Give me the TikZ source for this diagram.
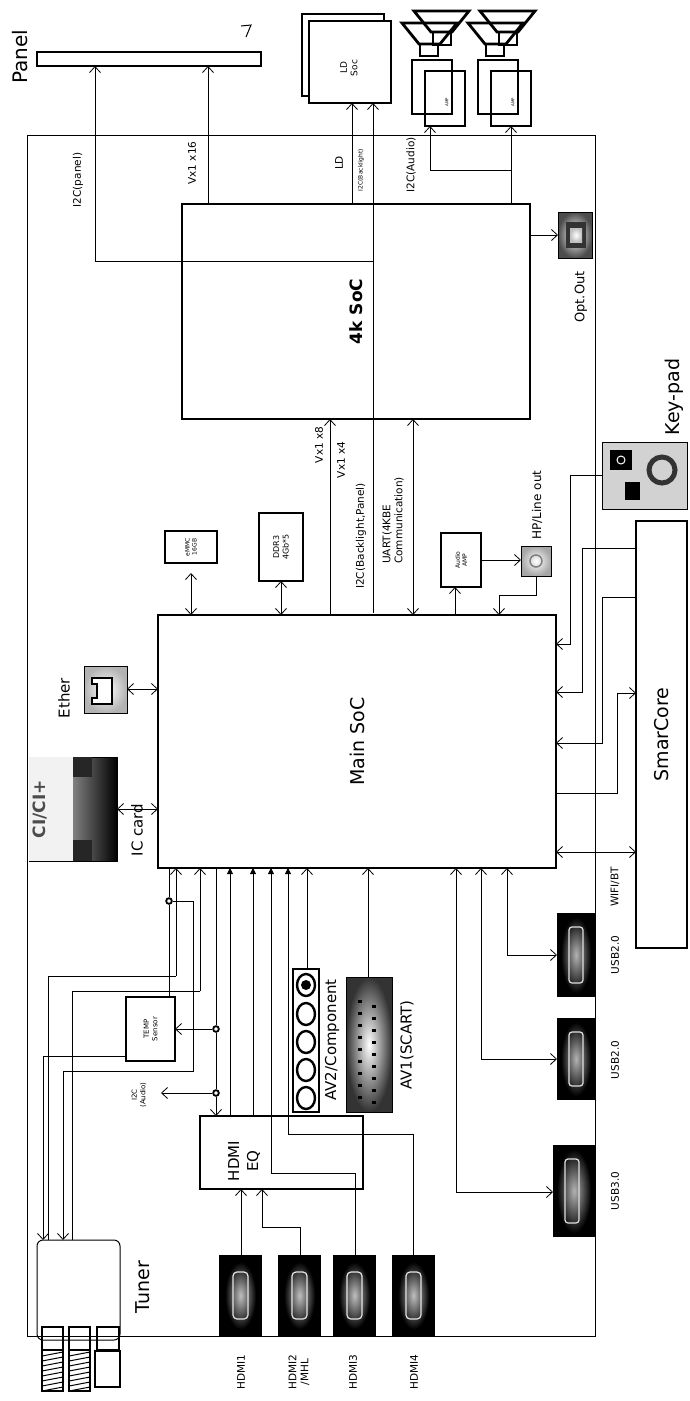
\documentclass[tikz,border=0pt]{standalone}
\usepackage{fontspec}
\setmainfont{DejaVu Sans}
\usetikzlibrary{arrows.meta,shapes.misc}

\tikzset{
  blk/.style={draw,line width=2.8pt,inner sep=0pt,outer sep=0pt},
  lbl/.style={rotate=90,inner sep=1pt,font=\fontsize{10.5}{12}\selectfont},
  big/.style={rotate=90,inner sep=1pt,font=\fontsize{19}{21}\selectfont},
  tiny/.style={rotate=90,inner sep=0pt,align=center,font=\fontsize{6}{7}\selectfont},
  arr/.style={-{Straight Barb[length=6pt,width=11pt]},line width=0.8pt},
  darr/.style={{Straight Barb[length=6pt,width=11pt]}-{Straight Barb[length=6pt,width=11pt]},line width=0.8pt},
  farr/.style={-{Triangle[length=6pt,width=6pt]},line width=0.8pt},
  ln/.style={line width=0.8pt},
  dot/.style={circle,draw,line width=1.8pt,fill=white,inner sep=2pt},
}

\begin{document}
\begin{tikzpicture}[x=1pt,y=-1pt]
\useasboundingbox (0,0) rectangle (689,1401);
% board
\draw[line width=1pt] (27,135) rectangle (595,1336);

% chips
\node[blk,minimum width=348pt,minimum height=215pt] (k4) at (356,311.5) {};
\node[rotate=90,font=\bfseries\fontsize{17}{19}\selectfont] at (356,311.5) {4k SoC};
\node[blk,minimum width=398pt,minimum height=253pt] (main) at (357,741.5) {};
\node[big] at (357,741.5) {Main SoC};
\node[blk,minimum width=51pt,minimum height=427pt] (smart) at (661.5,734.5) {};
\node[big] at (661.5,734.5) {SmarCore};
\node[blk,minimum width=32pt,minimum height=52pt,tiny] (emmc) at (191,547) {eMMC\\16GB};
\node[blk,minimum width=44pt,minimum height=68pt] (ddr) at (281,547) {};
\node[tiny,font=\fontsize{8}{9.5}\selectfont] at (281,547) {DDR3\\4Gb*5};
\node[blk,minimum width=40pt,minimum height=54pt] (aamp) at (461,560) {};
\node[tiny] at (461,560) {Audio\\AMP};
\node[blk,minimum width=49pt,minimum height=64pt] (temp) at (150.5,1029) {};
\node[tiny,font=\fontsize{7}{8.5}\selectfont] at (150.5,1029) {TEMP\\Sensor};
\node[blk,minimum width=163pt,minimum height=73pt] (eq) at (281.5,1152.5) {};
\node[rotate=90,align=center,font=\fontsize{15}{19}\selectfont] at (244,1161) {HDMI\\EQ};

% panel and LD
\draw[line width=2.8pt] (37,52) rectangle (261,66);
\node[big,font=\fontsize{20}{22}\selectfont] (panel) at (20,57) {Panel};
\draw[line width=1pt] (241,26) -- (251,25) -- (246,37);
\draw[line width=2.8pt] (302,14) rectangle (384,96);
\draw[line width=2.8pt,fill=white] (309,21) rectangle (391,103);
\node[tiny,font=\fontsize{9}{10.5}\selectfont] (ldsoc) at (349,68) {LD\\Soc};

% speakers and amps
\foreach \dx in {0,66}{
  \begin{scope}[xshift=\dx pt]
  \draw[line width=2.8pt] (412,60) rectangle (452,114);
  \draw[line width=2.8pt] (425,71) rectangle (465,126);
  \node[tiny,font=\fontsize{4}{5}\selectfont] at (447,102) {AMP};
  \draw[line width=2.8pt] (414,11) -- (469,11) -- (452,32) -- (431,32) -- cycle;
  \draw[line width=2.8pt] (433,32) rectangle (451,45);
  \draw[line width=2.8pt] (402,23) -- (457,23) -- (440,44) -- (419,44) -- cycle;
  \draw[line width=2.8pt] (420,44) rectangle (438,56);
  \end{scope}
}

% icons
\shade[inner color=white,outer color=gray!60!black,draw=black] (558,212) rectangle (592,258);
\fill[black!80] (566,222) rectangle (586,248);
\shade[inner color=white,outer color=gray!50] (570,228) rectangle (582,242);
\node[lbl,font=\fontsize{13}{15}\selectfont] (opt) at (581,297) {Opt.Out};
\fill[gray!35,draw=black] (602,442) rectangle (687,509);
\fill[black] (610,450) rectangle (632,470);
\draw[white,line width=1pt] (621,460) circle (4);
\fill[black] (625,482) rectangle (640,500);
\draw[black!80,line width=5pt] (662,470) circle (13);
\node[big] (keypad) at (674,397) {Key-pad};
\shade[inner color=white,outer color=gray!70,draw=black] (521,546) rectangle (551,576);
\draw[gray,line width=1.5pt] (536,561) circle (6);
\node[lbl,font=\fontsize{12}{14}\selectfont] at (537,505) {HP/Line out};
\shade[inner color=white,outer color=gray!60,draw=black] (84,666) rectangle (127,713);
\draw[black,line width=1.5pt,fill=white] (92,678) -- (112,678) -- (112,704) -- (92,704) -- (92,698) -- (97,698) -- (97,684) -- (92,684) -- cycle;
\node[big,font=\fontsize{15}{17}\selectfont] at (64,698) {Ether};
\shade[left color=white,right color=black,draw=black] (29,757) rectangle (117,861);
\fill[white!90!gray] (29,757) rectangle (73,861);
\fill[black!85] (73,757) rectangle (92,777);
\fill[black!85] (73,840) rectangle (92,861);
\node[rotate=90,font=\bfseries\fontsize{17}{19}\selectfont,text=gray!60!black] at (40,809) {CI/CI+};
\node[big,font=\fontsize{15}{17}\selectfont] at (137,830) {IC card};

% AV
\draw[line width=2.8pt] (293,969) rectangle (319,1112);
\foreach \yy in {985,1014,1042,1070,1098}{\draw[line width=2.4pt] (306,\yy) ellipse (9 and 11);}
\fill[black] (306,985) circle (5);
\node[lbl,font=\fontsize{15}{17}\selectfont] at (332,1040) {AV2/Component};
\shade[inner color=white,outer color=black!80,draw=black] (346,977) rectangle (392,1112);
\foreach \yy in {1000,1012,...,1096}{\fill[black] (358,\yy) rectangle (362,\yy+3); \fill[black] (372,\yy+5) rectangle (376,\yy+8);}
\node[lbl,font=\fontsize{15}{17}\selectfont] at (407,1045) {AV1(SCART)};

% HDMI ports
\foreach \xx/\nm in {219/1,278/2,333/3,392/4}{
  \fill[black] (\xx,1255) rectangle (\xx+43,1336);
  \shade[inner color=gray!50,outer color=black] (\xx+6,1262) rectangle (\xx+37,1329);
  \draw[white!80!gray,line width=1.2pt,rounded corners=4pt] (\xx+14,1272) rectangle (\xx+29,1319);
}
\node[lbl] at (241,1372) {HDMI1};
\node[lbl,align=center] at (299,1372) {HDMI2\\/MHL};
\node[lbl] at (353,1372) {HDMI3};
\node[lbl] at (414,1372) {HDMI4};

% USB ports
\foreach \xx/\ya/\yb in {557/913/997,557/1018/1100,553/1145/1237}{
  \fill[black] (\xx,\ya) rectangle (595,\yb);
  \shade[inner color=gray!60,outer color=black] (\xx+4,\ya+4) rectangle (591,\yb-4);
  \draw[white!75!gray,line width=1.2pt,rounded corners=3pt] (\xx+12,\ya+14) rectangle (\xx+26,\yb-14);
}
\node[lbl] at (615,955) {USB2.0};
\node[lbl] at (615,1060) {USB2.0};
\node[lbl] at (615,1191) {USB3.0};
\node[lbl] at (615,887) {WIFI/BT};

% tuner
\draw[line width=1pt,rounded corners=6pt] (37,1240) rectangle (120,1340);
\node[big] (tuner) at (143,1287) {Tuner};
\foreach \xx in {42,69}{
  \draw[line width=1.5pt] (\xx,1327) rectangle (\xx+21,1350);
  \draw[line width=1.5pt] (\xx,1350) rectangle (\xx+21,1391);
  \foreach \yy in {1352,1357,...,1388}{\draw[line width=1pt] (\xx,\yy+4) -- (\xx+21,\yy);}
}
\draw[line width=1.5pt] (97,1327) rectangle (119,1350);
\draw[line width=1.5pt] (95,1351) rectangle (120,1387);

% 4k SoC connections
\draw[arr] (95,261) -- (373,261) (95,261) -- (95,66);
\draw[arr] (208,204) -- (208,66);
\draw[arr] (352,204) -- (352,103);
\draw[arr] (373,613) -- (373,103);
\draw[arr] (511,204) -- (511,126);
\draw[arr] (511,170) -- (430,170) -- (430,126);
\draw[arr] (530,235) -- (558,235);
\node[lbl] at (78,180) {I2C(panel)};
\node[lbl] at (192,163) {Vx1 x16};
\node[lbl] at (339,163) {LD};
\node[lbl,font=\fontsize{6}{7}\selectfont] at (361,170) {I2C(Backlight)};
\node[lbl] at (411,165) {I2C(Audio)};

% Main SoC top
\draw[darr] (191,573) -- (191,615);
\draw[darr] (281,581) -- (281,615);
\draw[arr] (330,615) -- (330,419);
\draw[darr] (413,615) -- (413,419);
\draw[arr] (455,615) -- (455,587);
\draw[arr] (481,560) -- (521,560);
\draw[arr] (536,576) -- (536,595) -- (499,595) -- (499,615);
\node[lbl] at (319,445) {Vx1 x8};
\node[lbl] at (341,460) {Vx1 x4};
\node[lbl,anchor=west] at (361,590) {I2C(Backlight,Panel)};
\node[lbl,anchor=west,align=left] at (393,565) {UART(4KBE\\Communication)};

% left side
\draw[darr] (127,689) -- (158,689);
\draw[darr] (117,809) -- (158,809);

% right side
\draw[arr] (602,475) -- (570,475) -- (570,644) -- (556,644);
\draw[arr] (636,548) -- (582,548) -- (582,692) -- (556,692);
\draw[arr] (636,597) -- (602,597) -- (602,743) -- (556,743);
\draw[arr] (556,793) -- (617,793) -- (617,693) -- (636,693);
\draw[darr] (556,852) -- (636,852);

% Main SoC bottom
\draw[arr] (176,976) -- (176,868);
\draw[ln] (176,976) -- (48,976) -- (48,1240);
\draw[arr] (200,991) -- (200,868);
\draw[ln] (200,991) -- (72,991) -- (72,1240);
\node[dot] (d1) at (169,901) {};
\draw[ln] (169,868) -- (d1) -- (169,997);
\draw[arr] (d1) -- (193,901) -- (193,1071) -- (63,1071) -- (63,1240);
\draw[arr] (126,1056) -- (43,1056) -- (43,1240);
\node[dot] (d2) at (216,1029) {};
\node[dot] (d3) at (216,1093) {};
\draw[ln] (216,868) -- (d2) -- (d3);
\draw[arr] (d3) -- (216,1116);
\draw[arr] (d2) -- (175,1029);
\draw[arr] (d3) -- (161,1093);
\node[tiny,font=\fontsize{7}{8.5}\selectfont] at (139,1095) {I2C\\(Audio)};
\draw[farr] (230,1116) -- (230,868);
\draw[farr] (253,1116) -- (253,868);
\draw[farr] (355,1255) -- (355,1173) -- (271,1173) -- (271,868);
\draw[farr] (413,1255) -- (413,1134) -- (288,1134) -- (288,868);
\draw[arr] (307,969) -- (307,868);
\draw[arr] (368,977) -- (368,868);
\draw[arr] (241,1255) -- (241,1189);
\draw[arr] (300,1255) -- (300,1227) -- (262,1227) -- (262,1189);
\draw[darr] (507,868) -- (507,955) -- (557,955);
\draw[darr] (481,868) -- (481,1059) -- (557,1059);
\draw[darr] (456,868) -- (456,1192) -- (553,1192);
\end{tikzpicture}
\end{document}
